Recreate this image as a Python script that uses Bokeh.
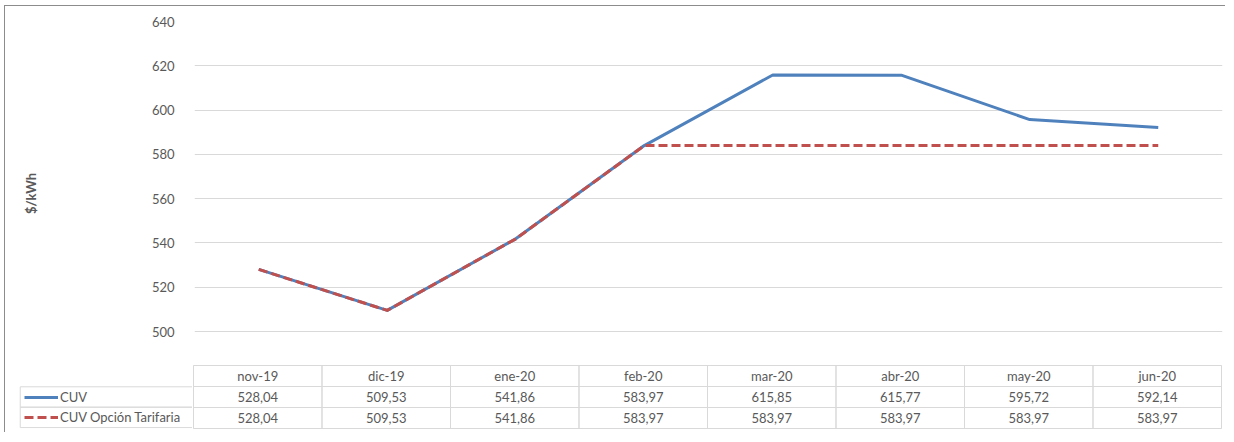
from bokeh.plotting import figure
from bokeh.layouts import row
from bokeh.models import (FactorRange, Range1d, SingleIntervalTicker, Legend,
                          LegendItem)
from bokeh.embed import file_html
from bokeh.resources import INLINE

# ---- data ----
months = ["nov-19", "dic-19", "ene-20", "feb-20", "mar-20", "abr-20", "may-20", "jun-20"]
cuv = [528.04, 509.53, 541.86, 583.97, 615.85, 615.77, 595.72, 592.14]
cuv_opcion = [528.04, 509.53, 541.86, 583.97, 583.97, 583.97, 583.97, 583.97]
series_names = ["CUV", "CUV Opción Tarifaria"]
y_label = "$/kWh"

FONT = "Lato"
TXT = "#595959"
GRID = "#d9d9d9"
BLUE = "#4f81bd"
RED = "#c0504d"
BORDER = "1px solid #8c8c8c"


def fmt(v):
    return f"{v:.2f}".replace(".", ",")


# ---- chart ----
p1 = figure(width=1221, height=359,
            x_range=FactorRange(factors=months),
            y_range=Range1d(484.65, 640),
            x_axis_location=None, toolbar_location=None, tools="",
            output_backend="svg",
            min_border_left=189, min_border_right=4,
            min_border_top=15, min_border_bottom=0,
            styles={"border-top": BORDER, "border-left": BORDER,
                    "margin-left": "4px", "margin-top": "5px"})
p1.outline_line_color = None
p1.xgrid.grid_line_color = None
p1.ygrid.grid_line_color = GRID
p1.ygrid.grid_line_width = 1

ax = p1.yaxis[0]
ax.ticker = SingleIntervalTicker(interval=20, num_minor_ticks=0)
ax.axis_line_color = None
ax.major_tick_line_color = None
ax.minor_tick_line_color = None
ax.major_label_standoff = 14
ax.major_label_text_font = FONT
ax.major_label_text_font_size = "13px"
ax.major_label_text_color = TXT
ax.axis_label = y_label
ax.axis_label_text_font = FONT
ax.axis_label_text_font_size = "13px"
ax.axis_label_text_font_style = "bold"
ax.axis_label_text_color = TXT
ax.axis_label_standoff = 110

p1.line(months, cuv, line_color=BLUE, line_width=3, line_join="round")
p1.line(months, cuv_opcion, line_color=RED, line_width=3, line_dash="9 4",
        line_join="round")

# ---- data table ----
rows = [series_names[1], series_names[0], "mes"]  # bottom to top

# legend column of the table
p_leg = figure(width=188, height=68,
               x_range=Range1d(-0.01, 1.0),
               y_range=FactorRange(factors=rows, range_padding=0.03),
               x_axis_location=None, y_axis_location=None,
               toolbar_location=None, tools="", output_backend="svg",
               min_border_left=13, min_border_right=0,
               min_border_top=1, min_border_bottom=4,
               styles={"border-left": BORDER})
p_leg.outline_line_color = None
p_leg.grid.grid_line_color = None
p_leg.rect(x=[0.5, 0.5], y=[rows[1], rows[0]], width=1, height=1,
           fill_color=None, line_color=GRID, line_width=1)
# single-point lines: draw nothing, only feed the legend samples
r_cuv = p_leg.line(x=[0.5], y=[rows[1]], line_color=BLUE, line_width=3)
r_opc = p_leg.line(x=[0.5], y=[rows[0]], line_color=RED, line_width=3,
                   line_dash="9 4")
legend = Legend(items=[LegendItem(label=series_names[0], renderers=[r_cuv]),
                       LegendItem(label=series_names[1], renderers=[r_opc])],
                location=(6, 1), orientation="vertical",
                margin=0, padding=0, spacing=0,
                glyph_width=34, glyph_height=20, label_height=20,
                label_standoff=2,
                label_text_font=FONT, label_text_font_size="13px",
                label_text_color=TXT,
                border_line_color=None, background_fill_alpha=0.0)
p_leg.add_layout(legend)

# month/value cells
p2 = figure(width=1033, height=68,
            x_range=FactorRange(factors=months),
            y_range=FactorRange(factors=rows),
            x_axis_location=None, y_axis_location=None,
            toolbar_location=None, tools="", output_backend="svg",
            min_border_left=1, min_border_right=4,
            min_border_top=1, min_border_bottom=4)
p2.outline_line_color = GRID
p2.grid.grid_line_color = None

cell_x = months * 3
cell_y = [rows[2]] * len(months) + [rows[1]] * len(months) + [rows[0]] * len(months)
cell_text = months + [fmt(v) for v in cuv] + [fmt(v) for v in cuv_opcion]

p2.rect(x=cell_x, y=cell_y, width=1, height=1, fill_color=None,
        line_color=GRID, line_width=1)
p2.text(x=cell_x, y=cell_y, text=cell_text, text_align="center",
        text_baseline="middle", text_font_size="13px", text_color=TXT,
        text_font={"value": FONT})

table = row(p_leg, p2, spacing=0, styles={"margin-left": "4px"})

open("out.html", "w").write(file_html([p1, table], INLINE))
